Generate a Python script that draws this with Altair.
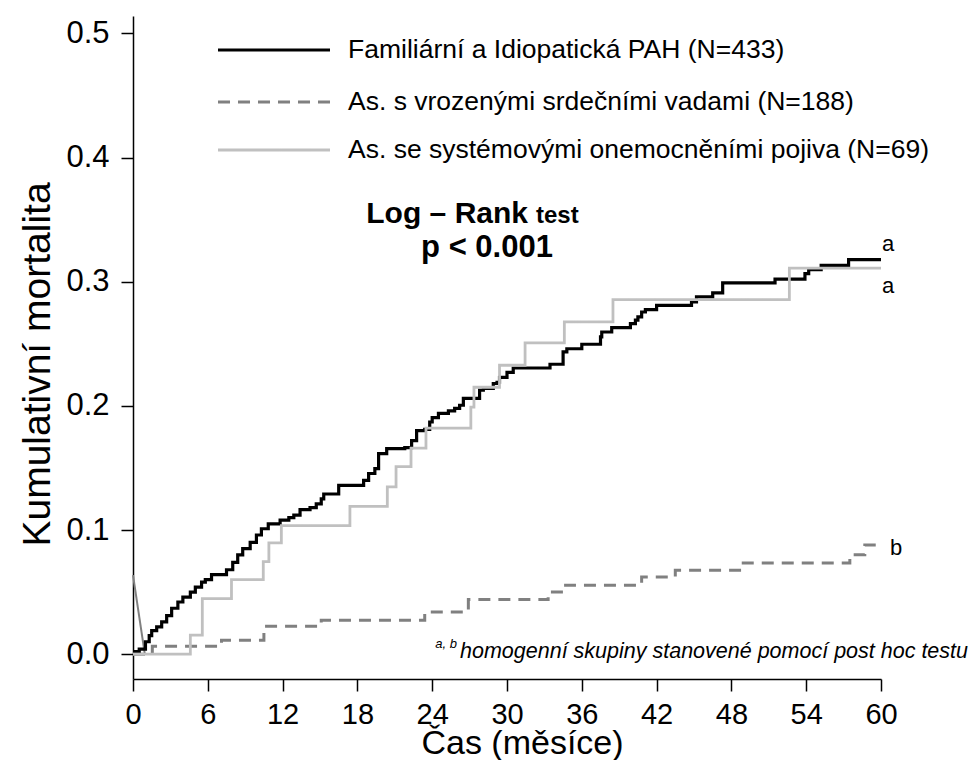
import altair as alt
import pandas as pd

# --- data ---
groups = [
    "Familiární a Idiopatická PAH (N=433)",
    "As. s vrozenými srdečními vadami (N=188)",
    "As. se systémovými onemocněními pojiva (N=69)",
]
colors = ["#000000", "#808080", "#c0c0c0"]

pah_month = [0, 0.5, 1.0, 1.3, 1.5, 1.9, 2.3, 2.7, 3.1, 3.6, 4.0, 4.6, 5.0, 5.5, 5.8,
             6.3, 7.5, 8.0, 8.4, 8.8, 9.4, 9.9, 10.3, 10.85, 11.8, 12.5, 12.9, 13.4,
             14.2, 14.7, 15.1, 15.3, 16.5, 18.5, 18.9, 19.4, 19.7, 20.35, 21.8, 22.35,
             22.75, 23.4, 23.8, 24.0, 24.5, 25.3, 25.8, 26.2, 26.5, 27.8, 28.1, 28.9,
             29.2, 29.4, 30.0, 30.5, 33.45, 34.5, 34.8, 36.0, 37.5, 37.6, 38.4, 39.9,
             40.3, 40.5, 40.8, 41.1, 42.0, 44.8, 45.2, 46.5, 47.3, 51.5, 53.9, 54.2,
             55.2, 57.4, 60]
pah_mort = [0.002, 0.004, 0.010, 0.015, 0.019, 0.022, 0.026, 0.031, 0.037, 0.042, 0.046,
            0.050, 0.054, 0.058, 0.060, 0.064, 0.068, 0.074, 0.080, 0.085, 0.090, 0.096,
            0.101, 0.105, 0.108, 0.110, 0.112, 0.1165, 0.118, 0.121, 0.125, 0.129, 0.136,
            0.140, 0.1455, 0.1495, 0.1616, 0.1656, 0.1664, 0.172, 0.180, 0.181, 0.187,
            0.1906, 0.194, 0.196, 0.198, 0.2005, 0.206, 0.2126, 0.214, 0.218, 0.219,
            0.223, 0.227, 0.2305, 0.2335, 0.2434, 0.246, 0.2496, 0.2555, 0.2595, 0.263,
            0.2663, 0.269, 0.2716, 0.2756, 0.2775, 0.281, 0.2837, 0.2877, 0.291, 0.299,
            0.302, 0.3065, 0.3097, 0.3132, 0.3178, 0.3178]

chd_month = [0, 1.55, 7.1, 10.5, 15.1, 23.4, 26.9, 33.3, 34.7, 40.8, 43.5, 48.8, 57.5, 58.7, 60]
chd_mort = [0.0, 0.0064, 0.0113, 0.0225, 0.0274, 0.034, 0.044, 0.050, 0.0556, 0.0622,
            0.0676, 0.0735, 0.080, 0.088, 0.088]

ctd_month = [0, 4.6, 5.56, 7.9, 10.45, 10.9, 11.9, 17.4, 20.4, 21.1, 22.3, 23.5, 27.1,
             27.35, 29.4, 31.45, 34.6, 38.5, 52.65, 60]
ctd_mort = [0.0, 0.0153, 0.0448, 0.060, 0.0745, 0.0896, 0.1035, 0.119, 0.1347, 0.151,
            0.166, 0.182, 0.199, 0.215, 0.2327, 0.2507, 0.2676, 0.2856, 0.311, 0.311]

artifact_month = [0, 0.95]
artifact_mort = [0.0636, 0.0]

x_ticks = list(range(0, 61, 6))
y_ticks = [0.0, 0.1, 0.2, 0.3, 0.4, 0.5]

# --- build table ---
frames = []
for g, m, v in zip(groups, [pah_month, chd_month, ctd_month], [pah_mort, chd_mort, ctd_mort]):
    frames.append(pd.DataFrame({"month": m, "mort": v, "group": g}))
df = pd.concat(frames, ignore_index=True)
df_art = pd.DataFrame({"month": artifact_month, "mort": artifact_mort})

FONT = "Liberation Sans"

xscale = alt.Scale(domain=[0, 60], nice=False, zero=False)
yscale = alt.Scale(domain=[-0.02, 0.514], nice=False, zero=False)

lines = alt.Chart(df).mark_line(interpolate="step-after").encode(
    x=alt.X("month:Q", scale=xscale,
            axis=alt.Axis(values=x_ticks, title="Čas (měsíce)", format="d",
                          titleX=389, titleY=74, titleBaseline="alphabetic",
                          titleAlign="center", titleFontSize=34,
                          labelFontSize=29, labelPadding=9)),
    y=alt.Y("mort:Q", scale=yscale,
            axis=alt.Axis(values=y_ticks, format=".1f", title="Kumulativní mortalita",
                          titleX=-84, titleY=348, titleBaseline="alphabetic",
                          titleAlign="center", titleAngle=270)),
    color=alt.Color("group:N", scale=alt.Scale(domain=groups, range=colors), legend=None),
    strokeDash=alt.StrokeDash("group:N",
                              scale=alt.Scale(domain=groups, range=[[1, 0], [12, 8], [1, 0]]),
                              legend=None),
    strokeWidth=alt.StrokeWidth("group:N",
                                scale=alt.Scale(domain=groups, range=[3.2, 2.8, 2.8]),
                                legend=None),
)

art = alt.Chart(df_art).mark_line(color="#808080", strokeWidth=2).encode(
    x=alt.X("month:Q", scale=xscale),
    y=alt.Y("mort:Q", scale=yscale),
)

layers = [art, lines]

# legend (manual)
leg_y = [34, 86, 134]
dashes = [[1, 0], [12, 8], [1, 0]]
for g, c, yv, d in zip(groups, colors, leg_y, dashes):
    layers.append(
        alt.Chart(pd.DataFrame({"t": [g]})).mark_rule(color=c, strokeWidth=3, strokeDash=d).encode(
            x=alt.value(85), x2=alt.value(197), y=alt.value(yv)))
    layers.append(
        alt.Chart(pd.DataFrame({"t": [g]})).mark_text(
            align="left", baseline="middle", fontSize=26.5, font=FONT, color="black").encode(
            x=alt.value(215), y=alt.value(yv), text="t:N"))

def label(txt, x, y, size, weight="normal", style="normal", align="center", baseline="middle"):
    return alt.Chart(pd.DataFrame({"t": [txt]})).mark_text(
        align=align, baseline=baseline, fontSize=size, fontWeight=weight, fontStyle=style,
        font=FONT, color="black").encode(x=alt.value(x), y=alt.value(y), text="t:N")

layers += [
    label("Log – Rank", 395, 207, 30, weight="bold", align="right", baseline="alphabetic"),
    label("test", 403, 207, 24, weight="bold", align="left", baseline="alphabetic"),
    label("p < 0.001", 354, 241, 31, weight="bold", baseline="alphabetic"),
    label("a", 755, 228, 22),
    label("a", 755, 270, 22),
    label("b", 763, 532, 22),
    label("a, b", 324, 628, 13, style="italic", align="right"),
    label("homogenní skupiny stanovené pomocí post hoc testu", 835, 636, 21.5,
          style="italic", align="right"),
]

chart = alt.layer(*layers).properties(
    width=748, height=663,
    autosize=alt.AutoSizeParams(type="none"),
    padding={"left": 125, "top": 8, "right": 89, "bottom": 81},
).configure_view(stroke=None).configure_axis(
    grid=False,
    domainColor="black", domainWidth=1.5,
    tickColor="black", tickWidth=1.5, tickSize=12,
    labelFont=FONT, labelFontSize=31, labelColor="black",
    titleFont=FONT, titleFontSize=39, titleFontWeight="normal", titleColor="black",
).configure_axisY(labelPadding=12).configure_axisX(labelFlush=False)

chart.save("out.html", embed_options={"renderer": "svg", "actions": False})
